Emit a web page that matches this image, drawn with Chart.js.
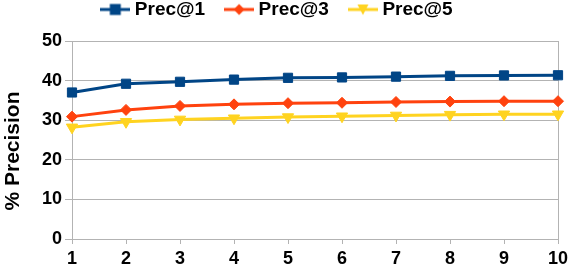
<!DOCTYPE html>
<html>
<head>
<meta charset="utf-8">
<script src="https://cdn.jsdelivr.net/npm/chart.js@4/dist/chart.umd.min.js"></script>
<style>
html,body{margin:0;padding:0;background:#fff;}
#wrap{width:570px;height:268px;position:relative;}
</style>
</head>
<body>
<div id="wrap"><canvas id="c" width="570" height="268"></canvas></div>
<script>
const categories = ['1','2','3','4','5','6','7','8','9','10'];
const prec1 = [37.0, 39.2, 39.7, 40.25, 40.7, 40.8, 41.0, 41.2, 41.3, 41.35];
const prec3 = [30.9, 32.6, 33.6, 34.0, 34.3, 34.4, 34.6, 34.7, 34.8, 34.8];
const prec5 = [28.2, 29.6, 30.2, 30.5, 30.8, 31.0, 31.2, 31.4, 31.5, 31.5];
const seriesNames = ['Prec@1', 'Prec@3', 'Prec@5'];
const yTitle = '% Precision';

const colors = ['#004586', '#ff420e', '#ffd320'];
const FONT = '"Liberation Sans", Arial, sans-serif';

function legendIcon(color, kind) {
  const cv = document.createElement('canvas');
  cv.width = 30; cv.height = 14;
  const g = cv.getContext('2d');
  g.strokeStyle = color; g.lineWidth = 3;
  g.beginPath(); g.moveTo(0, 7); g.lineTo(30, 7); g.stroke();
  g.fillStyle = color;
  g.beginPath();
  if (kind === 'rect') {
    g.rect(9.5, 1.5, 11, 11);
  } else if (kind === 'diamond') {
    g.moveTo(15, 1.5); g.lineTo(20.5, 7); g.lineTo(15, 12.5); g.lineTo(9.5, 7); g.closePath();
  } else {
    g.moveTo(9.5, 2); g.lineTo(20.5, 2); g.lineTo(15, 12.5); g.closePath();
  }
  g.fill();
  return cv;
}
const icons = [legendIcon(colors[0], 'rect'), legendIcon(colors[1], 'diamond'), legendIcon(colors[2], 'tri')];

const titlePlugin = {
  id: 'yTitlePlugin',
  afterDraw(chart) {
    const ctx = chart.ctx;
    ctx.save();
    ctx.translate(13, 151);
    ctx.rotate(-Math.PI / 2);
    ctx.font = 'bold 21px ' + FONT;
    ctx.fillStyle = '#000';
    ctx.textAlign = 'center';
    ctx.textBaseline = 'middle';
    ctx.fillText(yTitle, 0, 0);
    ctx.restore();
  }
};

const GRID = '#b3b3b3';

new Chart(document.getElementById('c'), {
  type: 'line',
  data: {
    labels: categories,
    datasets: [
      { label: seriesNames[0], data: prec1, borderColor: colors[0], backgroundColor: colors[0],
        borderWidth: 3, pointStyle: 'rect', pointRadius: 6.5, pointBorderWidth: 1, pointBorderColor: colors[0], tension: 0 },
      { label: seriesNames[1], data: prec3, borderColor: colors[1], backgroundColor: colors[1],
        borderWidth: 3, pointStyle: 'rectRot', pointRadius: 5.5, pointBorderWidth: 1, pointBorderColor: colors[1], tension: 0 },
      { label: seriesNames[2], data: prec5, borderColor: colors[2], backgroundColor: colors[2],
        borderWidth: 3, pointStyle: 'triangle', rotation: 180, pointRotation: 180, pointRadius: 6.5, pointBorderWidth: 1, pointBorderColor: colors[2], tension: 0 }
    ]
  },
  options: {
    responsive: false,
    animation: false,
    events: [],
    layout: { padding: { left: 0, right: 12, top: -24, bottom: 0 } },
    plugins: {
      tooltip: { enabled: false },
      title: {
        display: true, text: '', weight: 500, position: 'top',
        font: { size: 1, lineHeight: 1 }, padding: { top: 11, bottom: 0 }
      },
      legend: {
        position: 'top',
        labels: {
          usePointStyle: true,
          pointStyleWidth: 20,
          padding: 24,
          color: '#000',
          font: { family: FONT, size: 19, weight: 'bold' },
          generateLabels(chart) {
            return chart.data.datasets.map((ds, i) => ({
              text: ds.label, pointStyle: icons[i], fillStyle: colors[i], strokeStyle: colors[i],
              lineWidth: 0, hidden: false, datasetIndex: i, fontColor: '#000'
            }));
          }
        }
      }
    },
    scales: {
      x: {
        type: 'category',
        offset: false,
        grid: {
          color: (ctx) => (ctx.index === 9 ? GRID : 'rgba(0,0,0,0)'),
          tickColor: GRID,
          tickLength: 5,
          lineWidth: 1
        },
        border: { color: GRID, width: 1 },
        ticks: { color: '#000', font: { family: FONT, size: 18, weight: 'bold' }, maxRotation: 0, autoSkip: false, padding: 4 },
        afterFit(scale) { scale.height = 29; scale.paddingRight = 0; scale.paddingLeft = 0; }
      },
      y: {
        min: 0, max: 50,
        grid: { color: GRID, tickColor: GRID, tickLength: 7, lineWidth: 1 },
        border: { color: GRID, width: 1 },
        ticks: { stepSize: 10, color: '#000', font: { family: FONT, size: 18, weight: 'bold' }, padding: 3 },
        afterFit(scale) { scale.width = 72; }
      }
    }
  },
  plugins: [titlePlugin]
});
</script>
</body>
</html>
